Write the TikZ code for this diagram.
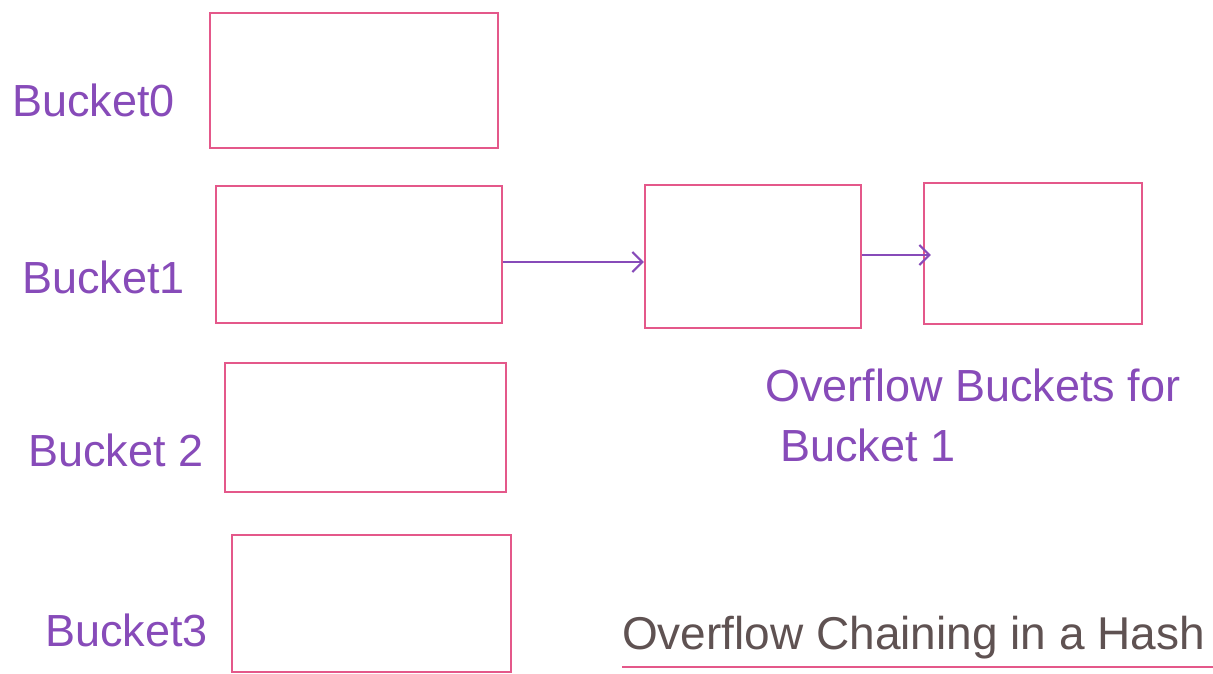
\documentclass[tikz,border=0pt]{standalone}
\usepackage{fontspec}
\setmainfont{Liberation Sans}
\usetikzlibrary{arrows.meta}
\definecolor{boxpink}{RGB}{228,88,138}
\definecolor{labpurple}{RGB}{135,75,185}
\definecolor{inkgray}{RGB}{95,82,82}
\begin{document}
\begin{tikzpicture}[x=1pt,y=-1pt,
  bx/.style={draw=boxpink, line width=2.2pt, rectangle, inner sep=0pt},
  lab/.style={text=labpurple, font=\fontsize{45}{50}\selectfont, inner sep=0pt},
  arr/.style={draw=labpurple, line width=2.2pt, ->, >={Straight Barb[length=10pt,width=20pt]}}]
\useasboundingbox (0,0) rectangle (1213,673);
\fill[white] (0,0) rectangle (1213,673);
% buckets
\node[bx, minimum width=288pt, minimum height=135pt] (b0) at (354,80.5) {};
\node[bx, minimum width=286pt, minimum height=137pt] (b1) at (359,254.5) {};
\node[bx, minimum width=281pt, minimum height=129pt] (b2) at (365.5,427.5) {};
\node[bx, minimum width=279pt, minimum height=137pt] (b3) at (371.5,603.5) {};
% overflow buckets
\node[bx, minimum width=216pt, minimum height=143pt] (o1) at (753,256.5) {};
\node[bx, minimum width=218pt, minimum height=141pt] (o2) at (1033,253.5) {};
% labels
\node[lab, anchor=west] (l0) at (12,100) {Bucket0};
\node[lab, anchor=west] (l1) at (22,277) {Bucket1};
\node[lab, anchor=west] (l2) at (28,450) {Bucket 2};
\node[lab, anchor=west] (l3) at (45,630) {Bucket3};
\node[lab, anchor=west] (ov1) at (765,385) {Overflow Buckets for};
\node[lab, anchor=west] (ov2) at (780,445) {Bucket 1};
% title
\node[text=inkgray, font=\fontsize{46}{50}\selectfont, inner sep=0pt, anchor=west] (t) at (622,638) {Overflow Chaining in a Hash};
\coordinate (ul1) at (622,667);
\coordinate (ul2) at (1213,667);
\draw[boxpink, line width=2.2pt] (ul1) -- (ul2);
% arrows
\draw[arr] (b1.east |- 0,262) -- (o1.west |- 0,262);
\draw[arr] (o1.east |- 0,255) -- ([xshift=8pt]o2.west |- 0,255);
\end{tikzpicture}
\end{document}
